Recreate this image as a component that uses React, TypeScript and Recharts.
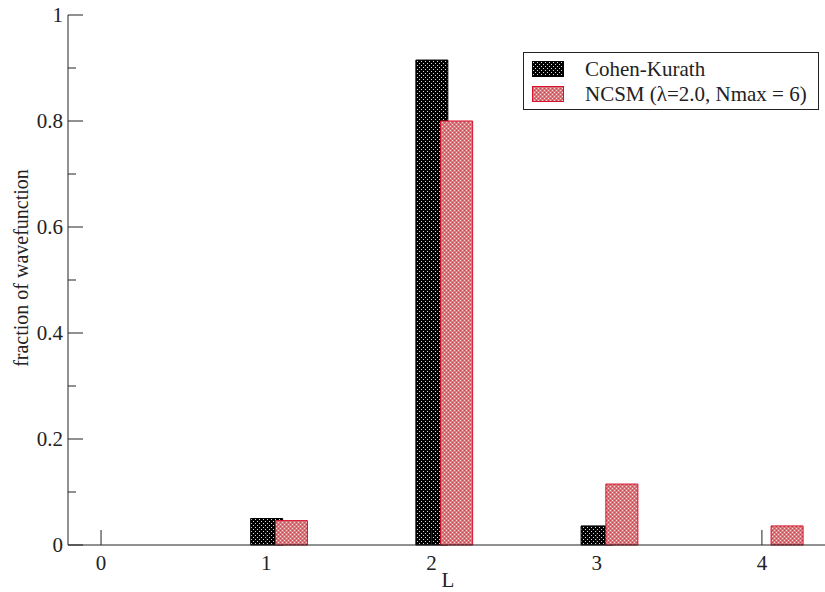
import React from 'react';
import { BarChart, Bar, XAxis, YAxis, Legend, Label } from 'recharts';

// orbital angular momentum L and the weight of each component
const levels = [0, 1, 2, 3, 4];
const cohenKurath = [0, 0.05, 0.915, 0.036, 0];
const ncsm = [0, 0.046, 0.8, 0.115, 0.036];

const xTicks = [0, 1, 2, 3, 4];
const yTicks = [0, 0.1, 0.2, 0.3, 0.4, 0.5, 0.6, 0.7, 0.8, 0.9, 1];

const seriesNames = ['Cohen-Kurath', 'NCSM (\u03bb=2.0, Nmax = 6)'];

const data = levels.map((L, i) => ({ L, ck: cohenKurath[i], ncsm: ncsm[i] }));

const FONT = '"Liberation Serif", "Times New Roman", serif';
const INK = '#222';
const MAJOR = 15;
const MINOR = 8;

const isMajor = (v: number) => Math.round(v * 10) % 2 === 0;

const LeftTick = (props: any) => {
    const { x, y, payload } = props;
    const axisX = x + 5;
    const len = isMajor(payload.value) ? MAJOR : MINOR;
    return (
        <g>
            <line x1={axisX} y1={y} x2={axisX + len} y2={y} stroke={INK} strokeWidth={1} />
            {isMajor(payload.value) && (
                <text x={x} y={y + 7} textAnchor="end" fontSize={21} fontFamily={FONT} fill={INK}>
                    {String(Number(payload.value.toFixed(1)))}
                </text>
            )}
        </g>
    );
};

const RightTick = (props: any) => {
    const { x, y, payload } = props;
    const len = isMajor(payload.value) ? MAJOR : MINOR;
    return <line x1={x} y1={y} x2={x - len} y2={y} stroke={INK} strokeWidth={1} />;
};

const BottomTick = (props: any) => {
    const { x, y, payload } = props;
    const axisY = y - 10;
    return (
        <g>
            <line x1={x} y1={axisY} x2={x} y2={axisY - MAJOR} stroke={INK} strokeWidth={1} />
            <text x={x} y={axisY + 25} textAnchor="middle" fontSize={21} fontFamily={FONT} fill={INK}>
                {payload.value}
            </text>
        </g>
    );
};

const TopTick = (props: any) => {
    const { x, y } = props;
    return <line x1={x} y1={y} x2={x} y2={y + MAJOR} stroke={INK} strokeWidth={1} />;
};

const renderLegend = () => (
    <div
        style={{
            border: `1px solid ${INK}`,
            background: '#fff',
            boxSizing: 'border-box',
            height: 58,
            padding: '4px 0 0 8px',
            fontFamily: FONT,
            fontSize: 21,
            color: INK,
        }}
    >
        {seriesNames.map((name, i) => (
            <div key={name} style={{ display: 'flex', alignItems: 'center', height: 25 }}>
                <svg width={32} height={17} style={{ flex: 'none' }}>
                    <rect
                        x={0.5}
                        y={0.5}
                        width={31}
                        height={15}
                        fill={i === 0 ? 'url(#ckDots)' : 'url(#ncsmGrid)'}
                        stroke={i === 0 ? '#000' : '#d8102a'}
                    />
                </svg>
                <span style={{ marginLeft: 21, whiteSpace: 'nowrap', lineHeight: '25px' }}>{name}</span>
            </div>
        ))}
    </div>
);

const App: React.FC = () => {
    return (
        <div style={{ position: 'absolute', left: 0, top: 0, width: 825, height: 592, overflow: 'hidden', background: '#fff' }}>
            <BarChart width={840} height={592} data={data} margin={{ top: 15, right: 12, bottom: 0, left: 0 }}>
                <defs>
                    <pattern id="ckDots" width={4} height={4} patternUnits="userSpaceOnUse">
                        <rect width={4} height={4} fill="#000" />
                        <rect x={1} y={1} width={1} height={1} fill="#d8d8d8" />
                        <rect x={3} y={3} width={1} height={1} fill="#d8d8d8" />
                    </pattern>
                    <pattern id="ncsmGrid" width={4} height={4} patternUnits="userSpaceOnUse">
                        <rect width={4} height={4} fill="#d77a80" />
                        <rect x={0} y={0} width={1} height={1} fill="#f6d8d8" />
                        <rect x={2} y={2} width={1} height={1} fill="#f6d8d8" />
                        <rect x={2} y={0} width={1} height={1} fill="#c84a52" />
                        <rect x={0} y={2} width={1} height={1} fill="#c84a52" />
                    </pattern>
                </defs>
                <XAxis
                    xAxisId="ck"
                    dataKey="L"
                    type="number"
                    domain={[-0.2, 4.4]}
                    ticks={xTicks}
                    height={47}
                    tickSize={0}
                    tickMargin={10}
                    tickLine={false}
                    tick={<BottomTick />}
                    axisLine={{ stroke: INK }}
                >
                    <Label
                        content={({ viewBox }: any) => (
                            <text
                                x={viewBox.x + viewBox.width / 2}
                                y={viewBox.y + viewBox.height - 5}
                                textAnchor="middle"
                                fontSize={21}
                                fontFamily={FONT}
                                fill={INK}
                            >
                                L
                            </text>
                        )}
                    />
                </XAxis>
                {/* shifted copy of the L axis so the NCSM bars sit just right of each tick */}
                <XAxis xAxisId="nc" dataKey="L" type="number" domain={[-0.35, 4.25]} hide />
                <XAxis
                    xAxisId="top"
                    orientation="top"
                    dataKey="L"
                    type="number"
                    domain={[-0.2, 4.4]}
                    ticks={xTicks}
                    height={0}
                    tickSize={0}
                    tickMargin={0}
                    tickLine={false}
                    tick={<TopTick />}
                    axisLine={{ stroke: INK }}
                />
                <YAxis
                    type="number"
                    domain={[0, 1]}
                    ticks={yTicks}
                    width={68}
                    tickSize={0}
                    tickMargin={5}
                    tickLine={false}
                    tick={<LeftTick />}
                    axisLine={{ stroke: INK }}
                >
                    <Label
                        content={({ viewBox }: any) => {
                            const cy = viewBox.y + viewBox.height / 2 - 12;
                            return (
                                <text
                                    x={28}
                                    y={cy}
                                    transform={`rotate(-90, 28, ${cy})`}
                                    textAnchor="middle"
                                    fontSize={20}
                                    fontFamily={FONT}
                                    fill={INK}
                                >
                                    fraction of wavefunction
                                </text>
                            );
                        }}
                    />
                </YAxis>
                <YAxis
                    yAxisId="right"
                    orientation="right"
                    type="number"
                    domain={[0, 1]}
                    ticks={yTicks}
                    width={0}
                    tickSize={0}
                    tickMargin={0}
                    tickLine={false}
                    tick={<RightTick />}
                    axisLine={false}
                />
                <Bar
                    xAxisId="ck"
                    dataKey="ck"
                    name={seriesNames[0]}
                    barSize={32}
                    fill="url(#ckDots)"
                    stroke="#000"
                    strokeWidth={1}
                    isAnimationActive={false}
                />
                <Bar
                    xAxisId="nc"
                    dataKey="ncsm"
                    name={seriesNames[1]}
                    barSize={32}
                    fill="url(#ncsmGrid)"
                    stroke="#d8102a"
                    strokeWidth={1}
                    isAnimationActive={false}
                />
                <Legend
                    layout="vertical"
                    align="center"
                    verticalAlign="middle"
                    wrapperStyle={{ left: 523, top: 52, width: 296 }}
                    content={renderLegend}
                />
            </BarChart>
        </div>
    );
};

export default App;
